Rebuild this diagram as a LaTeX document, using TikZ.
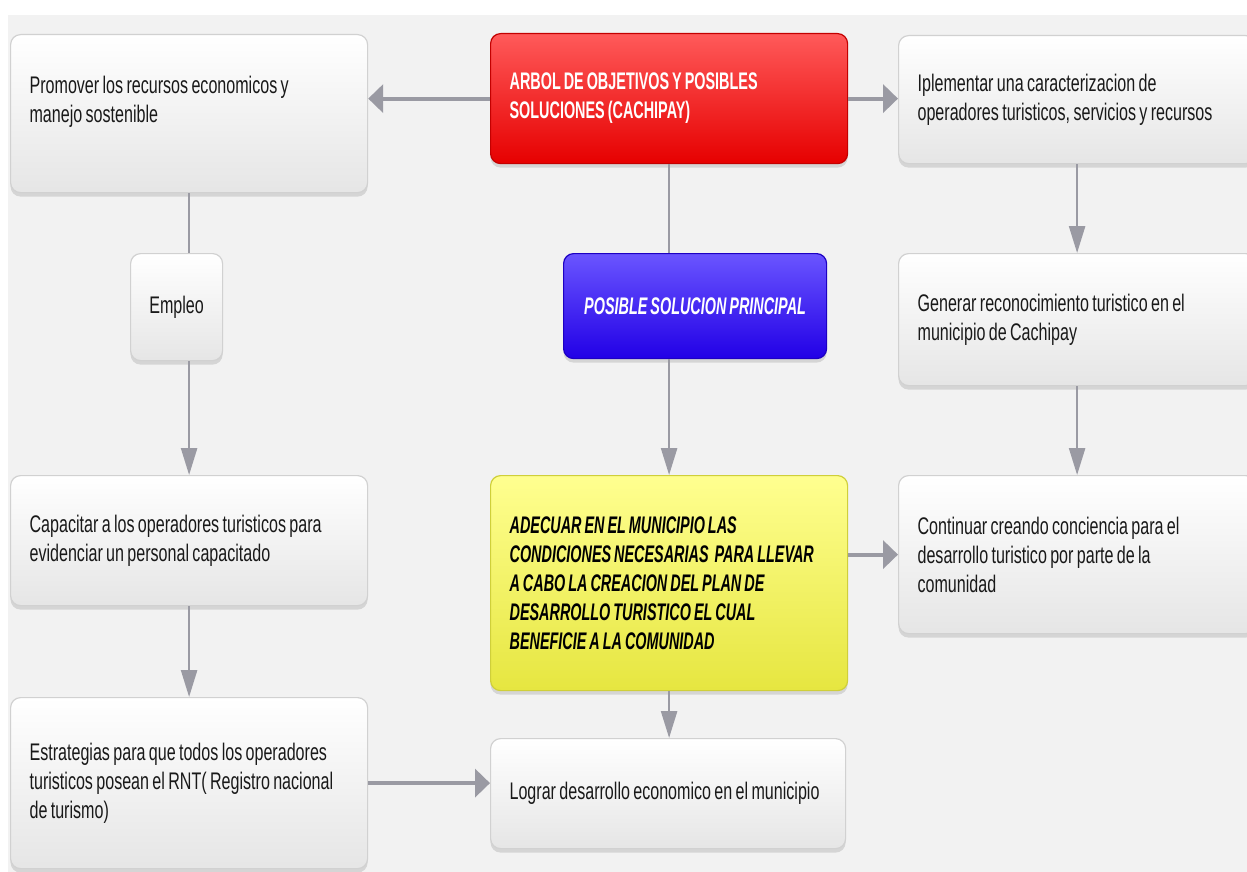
\documentclass[tikz,border=0pt]{standalone}
\usepackage{fontspec}
\setmainfont[FakeStretch=0.67,WordSpace=0.75]{Liberation Sans}
\newfontfamily\condbold[FakeStretch=0.6,WordSpace=0.75]{Liberation Sans}
\usetikzlibrary{shadows,% soft shadow under the boxes
arrows.meta}
\definecolor{backgray}{HTML}{F2F2F2}
\definecolor{linkgray}{HTML}{9A9AA3}
\definecolor{redtop}{HTML}{FF5A5A}
\definecolor{redbot}{HTML}{E60000}
\definecolor{bluetop}{HTML}{6A55FF}
\definecolor{bluebot}{HTML}{2200E6}
\definecolor{yellowtop}{HTML}{FFFF90}
\definecolor{yellowbot}{HTML}{E6E640}
\tikzset{every node/.style={font=\fontsize{24}{29}\selectfont,
    execute at begin node={\hyphenpenalty=10000\exhyphenpenalty=10000}}}
\tikzset{card/.style={anchor=north west, rounded corners=10pt, line width=1.2pt,
    draw=black!18, top color=white, middle color=white, bottom color=black!10,
    text=black!90, align=flush left, inner xsep=19pt, inner ysep=0pt,
    minimum width=357pt, text width=319pt,
    drop shadow={shadow xshift=0pt, shadow yshift=-4pt, opacity=0.25}},
  redcard/.style={card, draw=redbot!85!black, top color=redtop, middle color=red,
    bottom color=redbot, text=white, font=\fontsize{24}{29}\condbold\bfseries},
  bluecard/.style={card, draw=bluebot!85!black, top color=bluetop, middle color=bluebot!90!white,
    bottom color=bluebot, text=white, font=\fontsize{24}{29}\condbold\bfseries\itshape},
  yellowcard/.style={card, draw=yellowbot!90!black, top color=yellowtop, middle color=yellow!70!white,
    bottom color=yellowbot, text=black, font=\fontsize{24}{29}\condbold\bfseries\itshape}}

\begin{document}
\begin{tikzpicture}[x=1pt,y=-1pt,
  vlink/.style={draw=linkgray,line width=2.5pt,-{Triangle[length=27pt,width=16pt]}},
  hlink/.style={draw=linkgray,line width=4pt,-{Triangle[length=15pt,width=28pt]}},
  plain/.style={draw=linkgray,line width=2.5pt}]
  \clip (0,0) rectangle (1247,872);
  \fill[white] (0,0) rectangle (1247,872);
  \fill[backgray] (8,15) rectangle (1247,872);
  % left column
  \node[card, minimum height=158pt] (promover) at (10,34)
    {Promover los recursos economicos y\\ manejo sostenible\\ \mbox{}};
  \node[card, minimum width=92pt, minimum height=107pt, inner xsep=5pt,
    text width=82pt, align=flush center] (empleo) at (130,253) {Empleo};
  \node[card, minimum height=130pt] (capacitar) at (10,475)
    {Capacitar a los operadores turisticos para\\ evidenciar un personal capacitado};
  \node[card, minimum height=171pt] (estrategias) at (10,697)
    {Estrategias para que todos los operadores\\ turisticos posean el RNT( Registro nacional\\ de turismo)};
  % middle column
  \node[redcard, minimum height=130pt] (arbol) at (490,33)
    {ARBOL DE OBJETIVOS Y POSIBLES\\ SOLUCIONES (CACHIPAY)};
  \node[bluecard, minimum width=263pt, minimum height=105pt, inner xsep=10pt,
    text width=243pt, align=flush center] (posible) at (563,253) {POSIBLE SOLUCION PRINCIPAL};
  \node[yellowcard, minimum height=215pt] (adecuar) at (490,475)
    {ADECUAR EN EL MUNICIPIO LAS\\ CONDICIONES NECESARIAS \ PARA LLEVAR\\
     A CABO LA CREACION DEL PLAN DE\\ DESARROLLO TURISTICO EL CUAL\\ BENEFICIE A LA COMUNIDAD};
  \node[card, minimum width=355pt, minimum height=110pt, inner xsep=19pt,
    text width=317pt] (lograr) at (490,738)
    {Lograr desarrollo economico en el municipio};
  % right column
  \node[card, minimum height=128pt] (iplementar) at (898,35)
    {Iplementar una caracterizacion de\\ operadores turisticos, servicios y recursos};
  \node[card, minimum height=132pt] (generar) at (898,253)
    {Generar reconocimiento turistico en el\\ municipio de Cachipay};
  \node[card, minimum height=158pt] (continuar) at (898,475)
    {Continuar creando conciencia para el\\ desarrollo turistico por parte de la\\ comunidad};
  % connectors
  \draw[hlink] (arbol.west) -- (promover.east |- arbol.west);
  \draw[hlink] (arbol.east) -- (iplementar.west |- arbol.east);
  \draw[plain] (arbol.south) -- (arbol.south |- posible.north);
  \draw[vlink] (adecuar.north |- posible.south) -- (adecuar.north);
  \draw[vlink] (adecuar.south) -- (adecuar.south |- lograr.north);
  \draw[hlink] (adecuar.east |- continuar.west) -- (continuar.west);
  \draw[plain] (promover.south) -- (promover.south |- empleo.north);
  \draw[vlink] (promover.south |- empleo.south) -- (capacitar.north);
  \draw[vlink] (capacitar.south) -- (estrategias.north);
  \draw[hlink] (estrategias.east) -- (estrategias.east -| lograr.west);
  \draw[vlink] (iplementar.south) -- (generar.north);
  \draw[vlink] (generar.south) -- (continuar.north);
\end{tikzpicture}
\end{document}
